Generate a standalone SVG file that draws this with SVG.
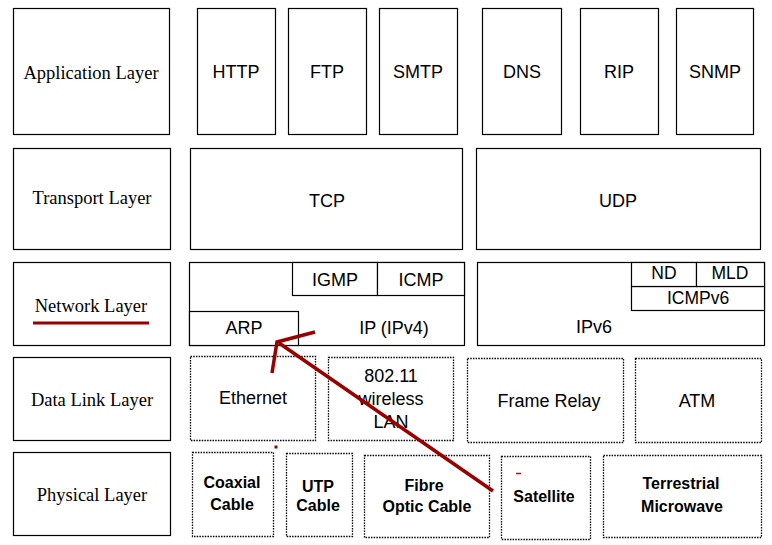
<svg xmlns="http://www.w3.org/2000/svg" width="772" height="545" viewBox="0 0 772 545">
<style>
.b{fill:#fff;stroke:#000;stroke-width:1.2}
.d{fill:#fff;stroke:#000;stroke-width:1.3;stroke-dasharray:1.5 1.2}
.l{font-family:"Liberation Serif","Times New Roman",serif;font-size:18.5px;fill:#000;text-anchor:middle}
.s{font-family:"Liberation Sans",Arial,sans-serif;font-size:18px;fill:#000;text-anchor:middle}
.m{font-family:"Liberation Sans",Arial,sans-serif;font-size:17.5px;fill:#000;text-anchor:middle}
.p{font-family:"Liberation Sans",Arial,sans-serif;font-size:16px;font-weight:bold;fill:#000;text-anchor:middle}
.r{stroke:#990000;stroke-width:3.5;fill:none;stroke-linecap:butt;stroke-linejoin:miter}
</style>
<rect width="772" height="545" fill="#fff"/>
<g id="layers">
<g id="app-layer"><rect class="b" x="13.5" y="8.5" width="156" height="126"/><text class="l" x="91" y="79">Application Layer</text></g>
<g id="transport-layer"><rect class="b" x="13.5" y="148.5" width="157" height="101"/><text class="l" x="92" y="204">Transport Layer</text></g>
<g id="network-layer"><rect class="b" x="13.5" y="262.5" width="157" height="83"/><text class="l" x="91" y="312">Network Layer</text><line x1="33" y1="323" x2="149" y2="323" stroke="#990000" stroke-width="3"/></g>
<g id="datalink-layer"><rect class="b" x="13.5" y="357.5" width="157" height="83"/><text class="l" x="92" y="406">Data Link Layer</text></g>
<g id="physical-layer"><rect class="b" x="13.5" y="452.5" width="157" height="83"/><text class="l" x="92" y="501">Physical Layer</text></g>
</g>
<g id="application">
<g id="http"><rect class="b" x="197.5" y="8.5" width="78" height="126"/><text class="s" x="236" y="78">HTTP</text></g>
<g id="ftp"><rect class="b" x="288.5" y="8.5" width="78" height="126"/><text class="s" x="327" y="78">FTP</text></g>
<g id="smtp"><rect class="b" x="379.5" y="8.5" width="78" height="126"/><text class="s" x="418" y="78">SMTP</text></g>
<g id="dns"><rect class="b" x="482.5" y="8.5" width="79" height="126"/><text class="s" x="522" y="78">DNS</text></g>
<g id="rip"><rect class="b" x="580.5" y="8.5" width="78" height="126"/><text class="s" x="619" y="78">RIP</text></g>
<g id="snmp"><rect class="b" x="676.5" y="8.5" width="77" height="126"/><text class="s" x="715" y="78">SNMP</text></g>
</g>
<g id="transport">
<g id="tcp"><rect class="b" x="190.5" y="148.5" width="272" height="101"/><text class="s" x="327" y="207">TCP</text></g>
<g id="udp"><rect class="b" x="476.5" y="148.5" width="284" height="101"/><text class="s" x="618" y="207">UDP</text></g>
</g>
<g id="network">
<g id="ipv4"><rect class="b" x="189.5" y="262.5" width="275" height="83"/><text class="s" x="394" y="334">IP (IPv4)</text></g>
<g id="igmp"><rect class="b" x="292.5" y="262.5" width="85" height="33"/><text class="s" x="335" y="286">IGMP</text></g>
<g id="icmp"><rect class="b" x="377.5" y="262.5" width="87" height="33"/><text class="s" x="421" y="286">ICMP</text></g>
<g id="arp"><rect class="b" x="189.5" y="311.5" width="109" height="34"/><text class="s" x="244" y="334">ARP</text></g>
<g id="ipv6"><rect class="b" x="477.5" y="262.5" width="287" height="83"/><text class="s" x="594" y="333">IPv6</text></g>
<g id="icmpv6"><rect class="b" x="631.5" y="286.5" width="133" height="24"/><text class="m" x="698" y="304">ICMPv6</text></g>
<g id="nd"><rect class="b" x="631.5" y="262.5" width="65" height="24"/><text class="m" x="664" y="279">ND</text></g>
<g id="mld"><rect class="b" x="696.5" y="262.5" width="68" height="24"/><text class="m" x="730" y="279">MLD</text></g>
</g>
<g id="datalink">
<g id="ethernet"><rect class="d" x="190.5" y="356.5" width="125" height="84"/><text class="s" x="253" y="404">Ethernet</text></g>
<g id="wlan"><rect class="d" x="328.5" y="357.5" width="125" height="83"/><text class="s" x="391" y="382">802.11</text><text class="s" x="391" y="405">wireless</text><text class="s" x="391" y="428">LAN</text></g>
<g id="framerelay"><rect class="d" x="467.5" y="358.5" width="156" height="84"/><text class="s" x="549" y="407">Frame Relay</text></g>
<g id="atm"><rect class="d" x="635.5" y="358.5" width="126" height="84"/><text class="s" x="697" y="407">ATM</text></g>
</g>
<g id="physical">
<g id="coax"><rect class="d" x="192.5" y="452.5" width="81" height="84"/><text class="p" x="232" y="488">Coaxial</text><text class="p" x="232" y="510">Cable</text></g>
<g id="utp"><rect class="d" x="286.5" y="453.5" width="66" height="83"/><text class="p" x="318" y="492">UTP</text><text class="p" x="318" y="511">Cable</text></g>
<g id="fibre"><rect class="d" x="364.5" y="455.5" width="125" height="82"/><text class="p" x="424" y="491">Fibre</text><text class="p" x="427" y="512">Optic Cable</text></g>
<g id="satellite"><rect class="d" x="501.5" y="456.5" width="89" height="83"/><text class="p" x="544" y="502">Satellite</text><line x1="516" y1="473.5" x2="521" y2="473.5" stroke="#dd0000" stroke-width="1.5"/></g>
<g id="microwave"><rect class="d" x="603.5" y="455.5" width="158" height="82"/><text class="p" x="681" y="489">Terrestrial</text><text class="p" x="682" y="512">Microwave</text></g>
</g>
<g id="connectors">
<line class="r" x1="493" y1="491" x2="279" y2="343"/>
<polyline class="r" points="272,373 277,342 315,332"/>
<rect x="274.5" y="445.5" width="3" height="3" fill="#990000"/>
</g>
</svg>
